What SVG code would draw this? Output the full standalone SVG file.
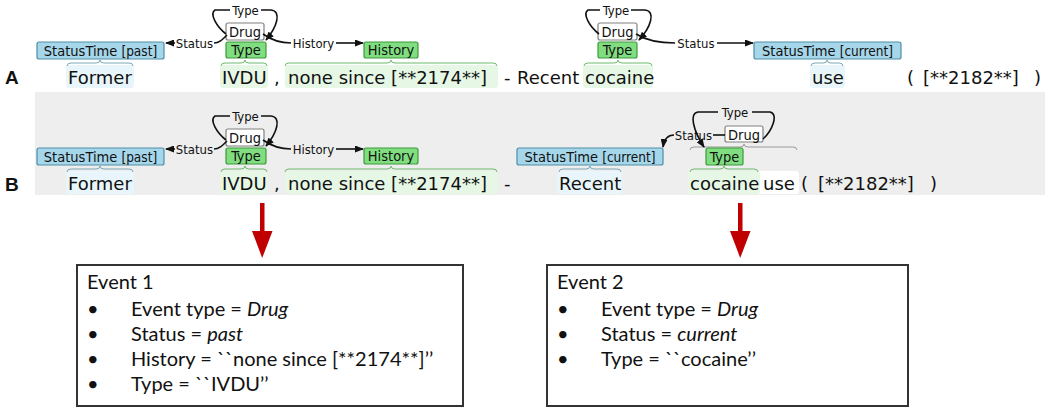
<svg xmlns="http://www.w3.org/2000/svg" width="1050" height="413" viewBox="0 0 1050 413">
<style>
.tok{font-family:"DejaVu Sans",Verdana,sans-serif;font-size:18px;fill:#111}
.row{font-family:"Liberation Sans",Arial,sans-serif;font-size:19px;font-weight:bold;fill:#111}
.lbl{font-family:"DejaVu Sans Condensed","DejaVu Sans",sans-serif;font-size:14.5px;fill:#111;text-anchor:middle}
.sm{font-size:13.5px}
.arcl{font-family:"DejaVu Sans Condensed","DejaVu Sans",sans-serif;font-size:13px;fill:#111;text-anchor:middle}
.st{fill:#a6d6ea;stroke:#4f8ea6;stroke-width:1.2}
.gr{fill:#80de80;stroke:#3c9a3c;stroke-width:1.2}
.dr{fill:#ffffff;stroke:#808080;stroke-width:1.2}
.hb{fill:#e8f5fa}
.hg{fill:#e6f7e6}
.brb{fill:none;stroke:#7aa8b9;stroke-width:1}
.brg{fill:none;stroke:#6dbb6d;stroke-width:1}
.brd{fill:none;stroke:#9a9a9a;stroke-width:1}
.arc{fill:none;stroke:#111;stroke-width:1.6}
.arr{fill:none;stroke:#111;stroke-width:1.6;marker-end:url(#ah)}
.box{fill:#fff;stroke:#333;stroke-width:2}
.ev{font-family:Lato,"Liberation Sans",sans-serif;font-size:20px;fill:#111}
.red{fill:#c00000}
</style>
<defs>
<marker id="ah" markerWidth="9" markerHeight="7" refX="8" refY="3.5" orient="auto" markerUnits="userSpaceOnUse">
<path d="M0,0 L9,3.5 L0,7 z" fill="#111"/>
</marker>
</defs>
<rect x="35" y="92" width="1010" height="103" fill="#eeeeee"/>
<text class="row" x="5" y="84">A</text>
<text class="row" x="5" y="191">B</text>

<g id="rowA-text">
<rect class="hb" x="66" y="65" width="68" height="23" rx="3"/>
<rect class="hg" x="220" y="65" width="48" height="23" rx="3"/>
<rect class="hg" x="285" y="65" width="213" height="23" rx="3"/>
<rect class="hg" x="583" y="65" width="70" height="23" rx="3"/>
<rect class="hb" x="810" y="65" width="35" height="23" rx="3"/>
<text class="tok" x="68" y="84">Former</text>
<text class="tok" x="222" y="84">IVDU</text>
<text class="tok" x="274" y="84">,</text>
<text class="tok" x="288" y="84">none since [**2174**]</text>
<text class="tok" x="504" y="84">-</text>
<text class="tok" x="517" y="84">Recent</text>
<text class="tok" x="585" y="84">cocaine</text>
<text class="tok" x="812" y="84">use</text>
<text class="tok" x="907" y="84">(</text>
<text class="tok" x="923" y="84">[**2182**]</text>
<text class="tok" x="1034" y="84">)</text>
</g>

<g id="rowA-braces">
<path class="brb" d="M67,66 Q67,63 71,63 L96,63 Q100,63 100,60 Q100,63 104,63 L129,63 Q133,63 133,66"/>
<path class="brg" d="M221,66 Q221,63 225,63 L241,63 Q245,63 245,60 Q245,63 249,63 L263,63 Q267,63 267,66"/>
<path class="brg" d="M285,66 Q285,63 289,63 L387,63 Q391,63 391,60 Q391,63 395,63 L493,63 Q497,63 497,66"/>
<path class="brg" d="M584,66 Q584,63 588,63 L614,63 Q618,63 618,60 Q618,63 622,63 L648,63 Q652,63 652,66"/>
<path class="brb" d="M811,66 Q811,63 815,63 L823,63 Q827,63 827,60 Q827,63 831,63 L839,63 Q843,63 843,66"/>
</g>

<g id="A-statustime-past">
<rect class="st" x="37" y="42" width="127" height="17" rx="2"/>
<text class="lbl" x="100.5" y="55.5">StatusTime <tspan class="sm">[past]</tspan></text>
</g>
<g id="A-drug1">
<rect class="dr" x="226" y="23" width="38" height="17" rx="2"/>
<text class="lbl" x="245" y="36.5">Drug</text>
</g>
<g id="A-type1">
<rect class="gr" x="226" y="42" width="40" height="16" rx="2"/>
<text class="lbl" x="246" y="55">Type</text>
</g>
<g id="A-history">
<rect class="gr" x="364" y="42" width="54" height="16" rx="2"/>
<text class="lbl" x="391" y="55">History</text>
</g>
<g id="A-drug2">
<rect class="dr" x="598" y="23" width="39" height="17" rx="2"/>
<text class="lbl" x="617.5" y="36.5">Drug</text>
</g>
<g id="A-type2">
<rect class="gr" x="598" y="42" width="39" height="16" rx="2"/>
<text class="lbl" x="617.5" y="55">Type</text>
</g>
<g id="A-statustime-current">
<rect class="st" x="754" y="42" width="147" height="17" rx="2"/>
<text class="lbl" x="827.5" y="55.5">StatusTime <tspan class="sm">[current]</tspan></text>
</g>

<g id="rowB-text">
<rect class="hb" x="66" y="171" width="68" height="23" rx="3"/>
<rect class="hg" x="220" y="171" width="48" height="23" rx="3"/>
<rect class="hg" x="285" y="171" width="213" height="23" rx="3"/>
<rect class="hb" x="557" y="171" width="65" height="23" rx="3"/>
<rect fill="#ffffff" x="688" y="171" width="111" height="23" rx="3"/>
<rect class="hg" x="688" y="171" width="72" height="23" rx="3"/>
<text class="tok" x="68" y="190">Former</text>
<text class="tok" x="222" y="190">IVDU</text>
<text class="tok" x="274" y="190">,</text>
<text class="tok" x="288" y="190">none since [**2174**]</text>
<text class="tok" x="504" y="190">-</text>
<text class="tok" x="559" y="190">Recent</text>
<text class="tok" x="690" y="190">cocaine</text>
<text class="tok" x="763" y="190">use</text>
<text class="tok" x="801" y="190">(</text>
<text class="tok" x="818" y="190">[**2182**]</text>
<text class="tok" x="930" y="190">)</text>
</g>

<g id="rowB-braces">
<path class="brb" d="M67,172 Q67,169 71,169 L96,169 Q100,169 100,166 Q100,169 104,169 L129,169 Q133,169 133,172"/>
<path class="brg" d="M221,172 Q221,169 225,169 L241,169 Q245,169 245,166 Q245,169 249,169 L263,169 Q267,169 267,172"/>
<path class="brg" d="M285,172 Q285,169 289,169 L387,169 Q391,169 391,166 Q391,169 395,169 L493,169 Q497,169 497,172"/>
<path class="brb" d="M559,172 Q559,169 563,169 L586,169 Q590,169 590,166 Q590,169 594,169 L617,169 Q621,169 621,172"/>
<path class="brg" d="M690,172 Q690,169 694,169 L720,169 Q724,169 724,166 Q724,169 728,169 L754,169 Q758,169 758,172"/>
<path class="brd" d="M690,150 Q690,147 694,147 L740,147 Q744,147 744,144 Q744,147 748,147 L793,147 Q797,147 797,150"/>
</g>

<g id="B-statustime-past">
<rect class="st" x="37" y="148" width="127" height="17" rx="2"/>
<text class="lbl" x="100.5" y="161.5">StatusTime <tspan class="sm">[past]</tspan></text>
</g>
<g id="B-drug1">
<rect class="dr" x="226" y="129" width="38" height="17" rx="2"/>
<text class="lbl" x="245" y="142.5">Drug</text>
</g>
<g id="B-type1">
<rect class="gr" x="226" y="148" width="40" height="16" rx="2"/>
<text class="lbl" x="246" y="161">Type</text>
</g>
<g id="B-history">
<rect class="gr" x="364" y="148" width="54" height="16" rx="2"/>
<text class="lbl" x="391" y="161">History</text>
</g>
<g id="B-statustime-current">
<rect class="st" x="517" y="148" width="146" height="17" rx="2"/>
<text class="lbl" x="590" y="161.5">StatusTime <tspan class="sm">[current]</tspan></text>
</g>
<g id="B-drug2">
<rect class="dr" x="725" y="126" width="38" height="16" rx="2"/>
<text class="lbl" x="744" y="139.5">Drug</text>
</g>
<g id="B-type2">
<rect class="gr" x="706" y="148" width="37" height="17" rx="2"/>
<text class="lbl" x="724.5" y="161.5">Type</text>
</g>

<g id="connectors">
<path class="arc" d="M226,34 C217,27 209,14 215,10 L230,10"/>
<path class="arr" d="M261,10 L271,10 C282,11 277,27 266,40"/>
<text class="arcl" x="245.5" y="14.5">Type</text>
<path class="arc" d="M227,35 C222,40 219,43 214,43"/>
<path class="arr" d="M175,43 L166,43"/>
<text class="arcl" x="194.5" y="47.5">Status</text>
<path class="arc" d="M263,34 C270,39 278,43 291,43"/>
<path class="arr" d="M336,43 L363,43"/>
<text class="arcl" x="313.5" y="47.5">History</text>
<path class="arc" d="M599,34 C590,27 582,14 588,10 L600,10"/>
<path class="arr" d="M631,10 L645,10 C656,11 651,27 639,40"/>
<text class="arcl" x="616" y="14.5">Type</text>
<path class="arc" d="M636,34 C644,39 655,43 675,43"/>
<path class="arr" d="M717,43 L753,43"/>
<text class="arcl" x="696" y="47.5">Status</text>
<path class="arc" d="M226,140 C217,133 209,120 215,116 L230,116"/>
<path class="arr" d="M261,116 L271,116 C282,117 277,133 266,146"/>
<text class="arcl" x="245.5" y="120.5">Type</text>
<path class="arc" d="M227,141 C222,146 219,149 214,149"/>
<path class="arr" d="M175,149 L166,149"/>
<text class="arcl" x="194.5" y="153.5">Status</text>
<path class="arc" d="M263,140 C270,145 278,149 291,149"/>
<path class="arr" d="M336,149 L363,149"/>
<text class="arcl" x="313.5" y="153.5">History</text>
<path class="arc" d="M763,139 C772,131 779,114 770,112 L752,112"/>
<path class="arr" d="M718,112 L698,112 C689,113 693,130 704,147"/>
<text class="arcl" x="735" y="116.5">Type</text>
<path class="arc" d="M725,135 L713,135"/>
<path class="arr" d="M674,135 C667,135 664,140 663,147"/>
<text class="arcl" x="693.5" y="139.5">Status</text>
<rect class="red" x="260" y="203" width="4.5" height="30"/>
<path class="red" d="M252,231 L272.5,231 L262.2,258 z"/>
<rect class="red" x="738" y="203" width="4.5" height="30"/>
<path class="red" d="M730,231 L750.5,231 L740.2,258 z"/>
</g>

<g id="event1">
<rect class="box" x="77" y="265" width="386" height="141"/>
<text class="ev" x="87" y="289">Event 1</text>
<text class="ev" x="87" y="316">•</text><text class="ev" x="131" y="316">Event type = <tspan font-style="italic">Drug</tspan></text>
<text class="ev" x="87" y="341">•</text><text class="ev" x="131" y="341">Status = <tspan font-style="italic">past</tspan></text>
<text class="ev" x="87" y="366">•</text><text class="ev" x="131" y="366">History = ``none since [**2174**]’’</text>
<text class="ev" x="87" y="391">•</text><text class="ev" x="131" y="391">Type = ``IVDU’’</text>
</g>
<g id="event2">
<rect class="box" x="547" y="265" width="361" height="141"/>
<text class="ev" x="557" y="289">Event 2</text>
<text class="ev" x="557" y="316">•</text><text class="ev" x="601" y="316">Event type = <tspan font-style="italic">Drug</tspan></text>
<text class="ev" x="557" y="341">•</text><text class="ev" x="601" y="341">Status = <tspan font-style="italic">current</tspan></text>
<text class="ev" x="557" y="366">•</text><text class="ev" x="601" y="366">Type = ``cocaine’’</text>
</g>
</svg>
